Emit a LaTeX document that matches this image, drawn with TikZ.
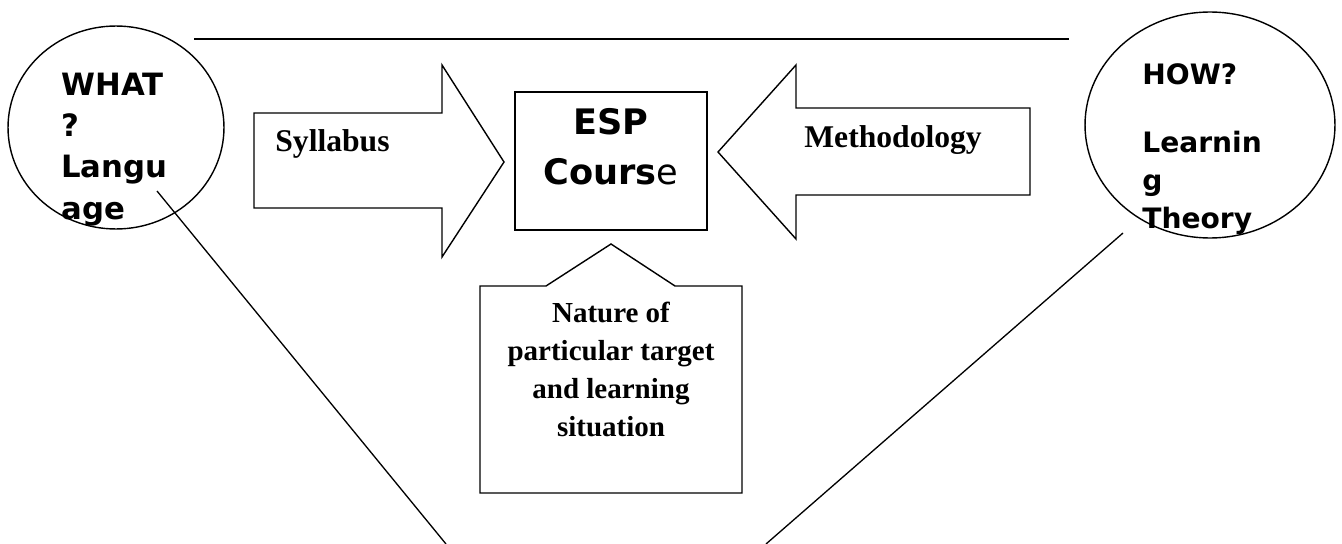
\documentclass[tikz,border=0pt]{standalone}
\usepackage{fontspec}
\setmainfont{Liberation Serif}
\setsansfont{DejaVu Sans}
\usetikzlibrary{shapes.geometric}

\begin{document}
\begin{tikzpicture}[x=0.02cm,y=-0.02cm,line join=miter,
 bubble/.style={draw,line width=0.8pt,ellipse,inner sep=0pt},
 bubbletext/.style={align=left,anchor=north west,inner sep=0pt},
 blockarrow/.style={draw,line width=0.8pt},
 arrowlabel/.style={font=\fontsize{18pt}{20pt}\selectfont\bfseries,anchor=base west,inner sep=0pt},
 link/.style={line width=0.75pt}]
\useasboundingbox (0,0) rectangle (1342,544);
% line across the top
\coordinate (topL) at (194,39);
\coordinate (topR) at (1069,39);
\draw[line width=1.2pt] (topL) -- (topR);
% the two bubbles
\node[bubble,minimum width=4.32cm,minimum height=4.06cm] (what) at (116,127.5) {};
\node[bubbletext,font=\fontsize{17.5pt}{23.4pt}\selectfont\sffamily\bfseries] (whatT) at (61,73) {WHAT\\?\\Langu\\age};
\node[bubble,minimum width=5cm,minimum height=4.52cm] (how) at (1210,125) {};
\node[bubbletext,font=\fontsize{16pt}{21.8pt}\selectfont\sffamily\bfseries] (howT) at (1142,63) {HOW?\\[17pt]Learnin\\g\\Theory};
% block arrows into the course
\draw[blockarrow] (254,113) -- (442,113) -- (442,65) -- (504,162) -- (442,257) -- (442,208) -- (254,208) -- cycle;
\node[arrowlabel] (syl) at (275,152) {Syllabus};
\draw[blockarrow] (1030,108) -- (796,108) -- (796,65) -- (718,152) -- (796,239) -- (796,195) -- (1030,195) -- cycle;
\node[arrowlabel] (meth) at (804,148) {Methodology};
% the course
\node[draw,line width=0.8pt,minimum width=3.84cm,minimum height=2.76cm] (esp) at (611,161) {};
\node[font=\fontsize{20pt}{28.5pt}\selectfont\sffamily\bfseries,align=center,anchor=north,inner sep=0pt] (espT) at (611,108) {ESP\\Cours{\mdseries e}};
% target situation
\draw[blockarrow] (480,493) -- (480,286) -- (546,286) -- (611,244) -- (675,286) -- (742,286) -- (742,493) -- cycle;
\node[font=\fontsize{16.5pt}{21.6pt}\selectfont\bfseries,align=center,anchor=north,inner sep=0pt] (nat) at (611,302) {Nature of\\particular target\\and learning\\situation};
% lines down to the base
\coordinate (langEnd) at (157,191);
\coordinate (baseL) at (446,544);
\coordinate (theoEnd) at (1123,233);
\coordinate (baseR) at (766,544);
\draw[link] (langEnd) -- (baseL);
\draw[link] (theoEnd) -- (baseR);
\end{tikzpicture}
\end{document}
